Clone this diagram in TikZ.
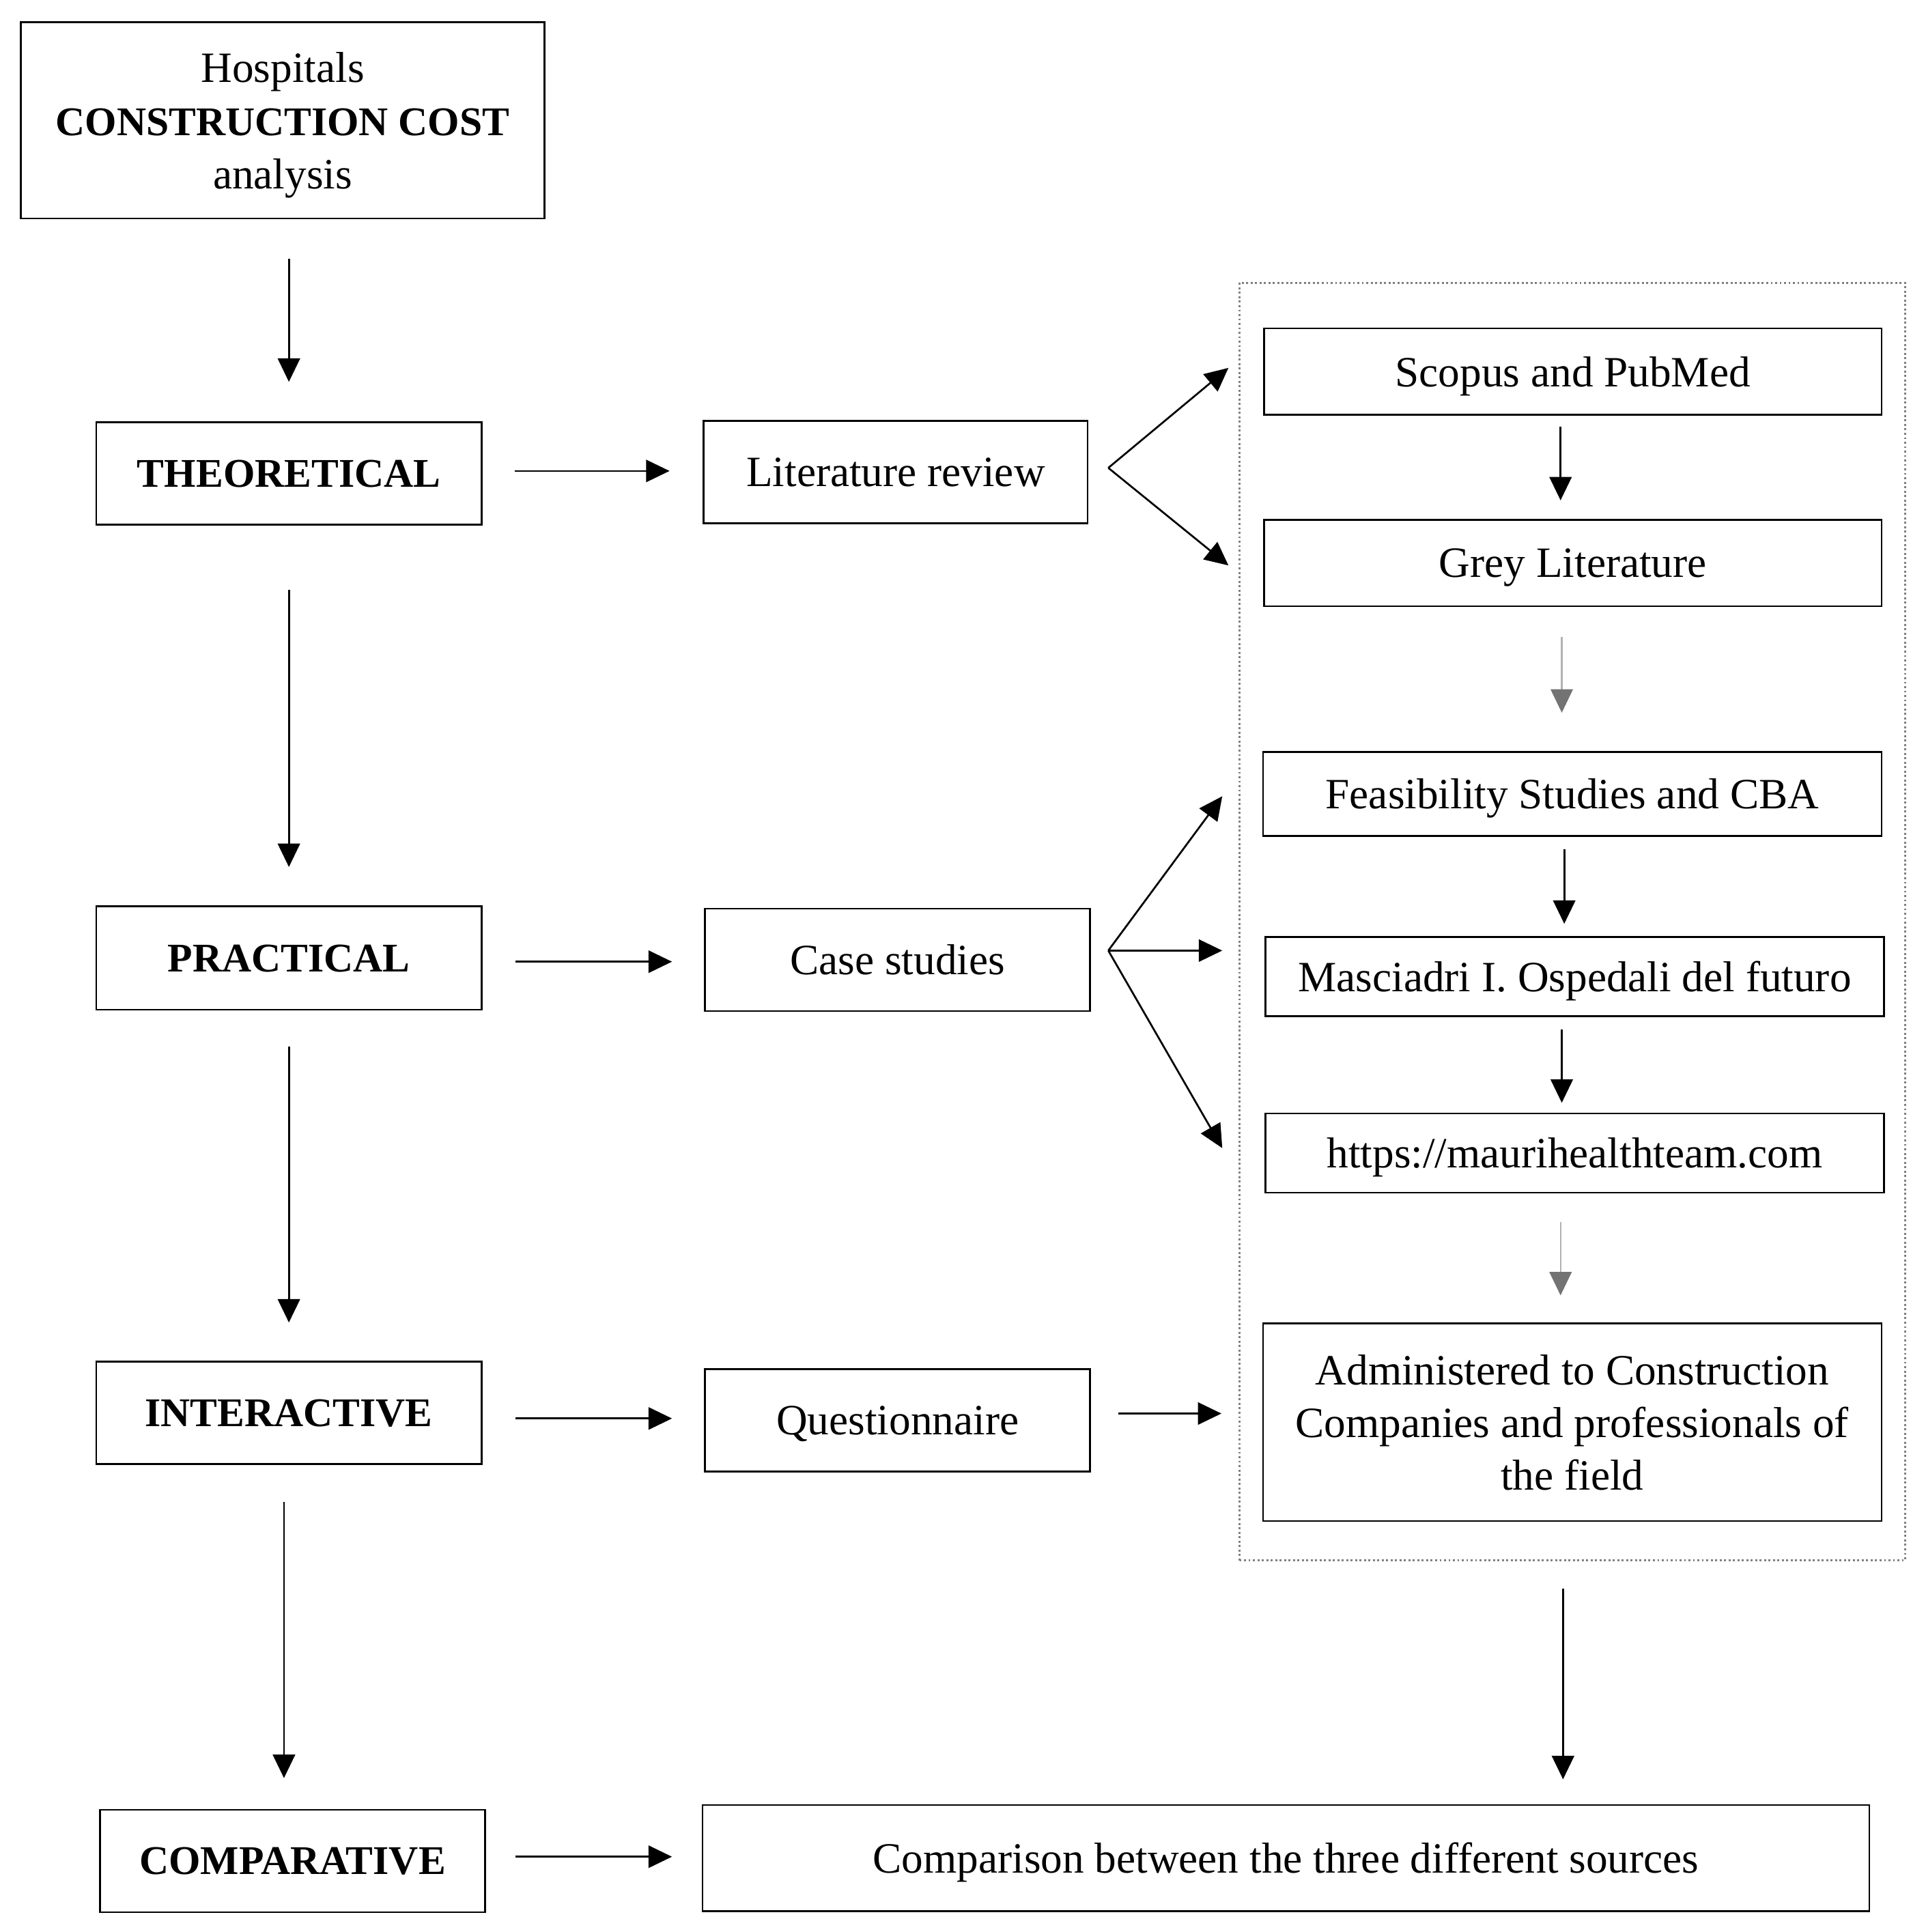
\documentclass[tikz,border=0pt]{standalone}
\usepackage{fontspec}
\setmainfont{Liberation Serif}
\usetikzlibrary{arrows.meta}
\newcommand\myfs{\fontsize{35}{43}\selectfont}
\newcommand\mybf[1]{{\fontsize{33}{43}\selectfont\bfseries #1}}
\begin{document}
\begin{tikzpicture}[x=1pt,y=-1pt,
  box/.style={draw, line width=1.4pt, rectangle, inner sep=0pt, align=center, font=\myfs, text depth=0pt},
  arr/.style={line width=1.5pt, -{Triangle[length=19pt,width=18pt]}},
  garr/.style={line width=1.2pt, draw=black!30, -{Triangle[length=19pt,width=18pt,color=black!55]}}]
\useasboundingbox[fill=white] (0,0) rectangle (1560,1565);

% dotted frame
\node[draw=black!50, dotted, line width=1.6pt, rectangle, inner sep=0pt,
  minimum width=539pt, minimum height=1035pt] (frame) at (1273.5,746.5) {};

% left column
\node[box, minimum width=424pt, minimum height=159pt] (top) at (229,97.5)
  {Hospitals\\\mybf{CONSTRUCTION COST}\\analysis};
\node[box, minimum width=312pt, minimum height=83pt] (theo) at (234,383.5) {\mybf{THEORETICAL}};
\node[box, minimum width=312pt, minimum height=84pt] (prac) at (234,776) {\mybf{PRACTICAL}};
\node[box, minimum width=312pt, minimum height=83pt] (inter) at (234,1144.5) {\mybf{INTERACTIVE}};
\node[box, minimum width=312pt, minimum height=83pt] (comp) at (237,1507.5) {\mybf{COMPARATIVE}};

% middle column
\node[box, minimum width=311pt, minimum height=83pt] (lit) at (725.5,382.5) {Literature review};
\node[box, minimum width=312pt, minimum height=83pt] (case) at (727,777.5) {Case studies};
\node[box, minimum width=312pt, minimum height=83pt] (quest) at (727,1150.5) {Questionnaire};
\node[box, minimum width=945pt, minimum height=86pt] (compar) at (1041.5,1505) {Comparison between the three different sources};

% right column
\node[box, minimum width=500pt, minimum height=70pt] (scopus) at (1274,301) {Scopus and PubMed};
\node[box, minimum width=500pt, minimum height=70pt] (grey) at (1274,456) {Grey Literature};
\node[box, minimum width=501pt, minimum height=68pt] (feas) at (1273.5,643) {Feasibility Studies and CBA};
\node[box, minimum width=501pt, minimum height=64pt] (masc) at (1275.5,791) {Masciadri I. Ospedali del futuro};
\node[box, minimum width=501pt, minimum height=64pt] (http) at (1275.5,934) {https://maurihealthteam.com};
\node[box, minimum width=501pt, minimum height=160pt, font=\fontsize{35}{42.5}\selectfont] (admin) at (1273.5,1152)
  {Administered to Construction\\Companies and professionals of\\the field};

% left vertical arrows
\draw[arr, shorten <=32pt, shorten >=32pt] (top.south -| theo.north) -- (theo.north);
\draw[arr, shorten <=52pt, shorten >=31pt] (theo.south) -- (prac.north);
\draw[arr, shorten <=29pt, shorten >=31pt] (prac.south) -- (inter.north);
\draw[arr, shorten <=30pt, shorten >=25pt] ([xshift=-4pt]inter.south) -- ([xshift=-4pt]inter.south |- comp.north);

% horizontal arrows
\draw[arr, shorten <=26pt, shorten >=27pt] ([yshift=2pt]theo.east) -- ([yshift=2pt]theo.east -| lit.west);
\draw[arr, shorten <=27pt, shorten >=26pt] ([yshift=-3pt]prac.east) -- ([yshift=-3pt]prac.east -| case.west);
\draw[arr, shorten <=27pt, shorten >=26pt] ([yshift=-4.5pt]inter.east) -- ([yshift=-4.5pt]inter.east -| quest.west);
\draw[arr, shorten <=24pt, shorten >=24pt] ([yshift=3.5pt]comp.east) -- ([yshift=3.5pt]comp.east -| compar.west);
\draw[arr, shorten <=22pt, shorten >=33pt] ([yshift=5.5pt]quest.east) -- ([yshift=5.5pt]quest.east -| admin.west);

% fans
\coordinate (litfan) at ([xshift=16pt,yshift=3.5pt]lit.east);
\coordinate (casefan) at ([xshift=14pt,yshift=7.5pt]case.east);
\coordinate (e1) at (995,298);
\coordinate (e2) at (995,458);
\coordinate (e3) at (990,645);
\coordinate (e4) at (990,770);
\coordinate (e5) at (990,930);
\draw[arr] (litfan) -- (e1);
\draw[arr] (litfan) -- (e2);
\draw[arr] (casefan) -- (e3);
\draw[arr] (casefan) -- (e4);
\draw[arr] (casefan) -- (e5);

% right column arrows
\draw[arr, shorten <=9pt, shorten >=15pt] ([xshift=-10pt]scopus.south) -- ([xshift=-10pt]grey.north);
\draw[garr, shorten <=24pt, shorten >=31pt] ([xshift=-9pt]grey.south) -- ([xshift=-9pt]grey.south |- feas.north);
\draw[arr, shorten <=10pt, shorten >=10pt] ([xshift=-6.5pt]feas.south) -- ([xshift=-6.5pt]feas.south |- masc.north);
\draw[arr, shorten <=10pt, shorten >=8pt] ([xshift=-10.5pt]masc.south) -- ([xshift=-10.5pt]http.north);
\draw[garr, shorten <=23pt, shorten >=22pt] ([xshift=-11.5pt]http.south) -- ([xshift=-11.5pt]http.south |- admin.north);
\draw[arr, shorten <=22pt, shorten >=20pt] ([xshift=-7.5pt]frame.south) -- ([xshift=-7.5pt]frame.south |- compar.north);
\end{tikzpicture}
\end{document}
